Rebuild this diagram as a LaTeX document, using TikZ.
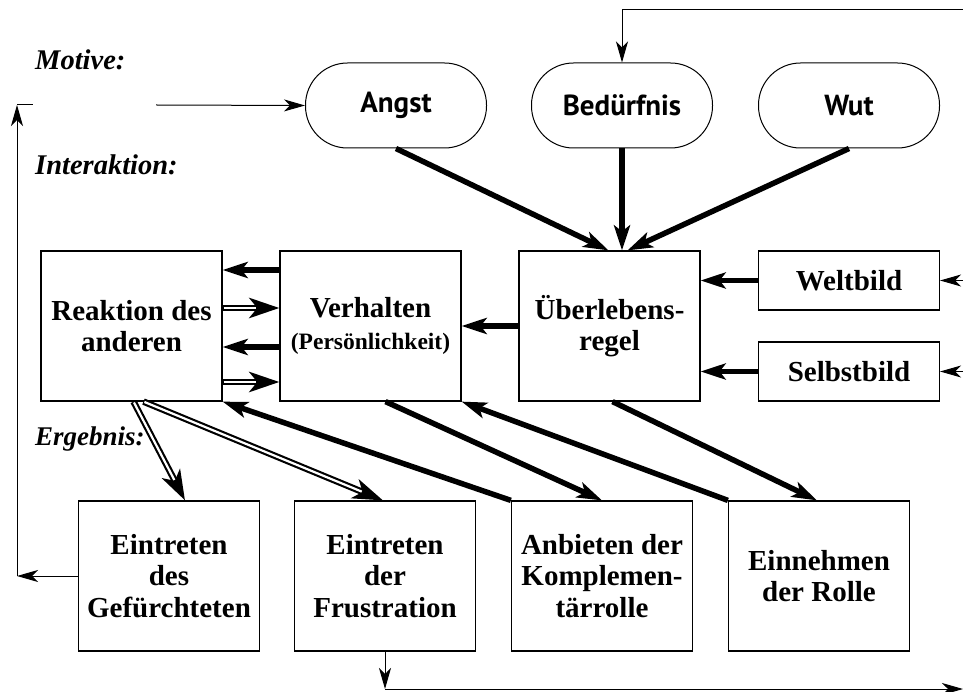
\documentclass[tikz,border=0pt]{standalone}
\usepackage{fontspec}
\setmainfont{Liberation Serif}
\newfontfamily\ovalfont{PT Sans}
\usetikzlibrary{arrows.meta,calc}
\begin{document}
\begin{tikzpicture}[x=1pt,y=-1pt,
  box/.style={draw, line width=1.2pt, minimum width=181pt, minimum height=150pt, align=center, inner sep=0pt, font=\fontsize{29}{31.5}\selectfont\bfseries},
  smallbox/.style={box, minimum height=59pt},
  oval/.style={draw, line width=1pt, rounded corners=42pt, minimum width=181pt, minimum height=85pt, inner sep=0pt, font=\ovalfont\bfseries\fontsize{29}{32}\selectfont},
  lab/.style={anchor=base west, inner sep=0pt, font=\fontsize{28.5}{32}\selectfont\bfseries\itshape},
  fine/.style={line width=1pt, -{Stealth[length=21pt,width=12pt,inset=6pt]}},
  plain/.style={line width=1pt},
  heavy/.style={line width=5.5pt, -{Stealth[length=25pt,width=16pt,inset=6pt]}},
  dbl/.style={line width=6.5pt, -{Stealth[length=30pt,width=20pt,inset=8pt]}},
  dblin/.style={white, line width=2.2pt, shorten >=23pt, shorten <=1pt},
]
\useasboundingbox (0,0) rectangle (963,692);

% labels
\node[lab] (lmot) at (35,70) {Motive:};
\node[lab] (lint) at (35,175) {Interaktion:};
\node[lab, font=\fontsize{27}{30}\selectfont\bfseries\itshape] (lerg) at (35,445) {Ergebnis:};

% motives
\node[oval] (angst) at (396,105.5) {Angst};
\node[oval] (bed) at (622,105.5) {Bedürfnis};
\node[oval] (wut) at (849,105.5) {Wut};

% interaction row
\node[box] (reak) at (131.5,326) {Reaktion des\\anderen};
\node[box] (verh) at (370.5,326) {Verhalten\\{\fontsize{23.5}{27}\selectfont (Persönlichkeit)}};
\node[box] (ueber) at (609.5,326) {Überlebens-\\regel};
\node[smallbox] (welt) at (849,280.5) {Weltbild};
\node[smallbox] (selbst) at (849,371.5) {Selbstbild};

% result row
\node[box] (gef) at (169,576) {Eintreten\\des\\Gefürchteten};
\node[box] (frust) at (385,576) {Eintreten\\der\\Frustration};
\node[box] (anb) at (602,576) {Anbieten der\\Komplemen-\\tärrolle};
\node[box] (einn) at (819,576) {Einnehmen\\der Rolle};

% coordinates
\coordinate (uA) at ($(ueber.north)+(-1,0)$);
\coordinate (uB) at (ueber.north -| bed.south);
\coordinate (uW) at ($(ueber.north)+(18,0)$);
\coordinate (ya) at (0,270);
\coordinate (yb) at (0,308);
\coordinate (yc) at (0,347);
\coordinate (yd) at (0,382);
\coordinate (rs1) at ($(reak.south)+(2,0)$);
\coordinate (rs2) at ($(reak.south)+(12,0)$);
\coordinate (gefn) at ($(gef.north)+(16,0)$);
\coordinate (frn) at ($(frust.north)+(-2,0)$);
\coordinate (vs) at ($(verh.south)+(15,0)$);
\coordinate (us) at ($(ueber.south)+(3,0)$);
\coordinate (en) at ($(einn.north)+(-2,0)$);
\coordinate (fbL) at (17,576);
\coordinate (fbT) at (17,105);
\coordinate (fbE) at (33,105);
\coordinate (fbS) at (156,105);
\coordinate (topR) at (963,10);
\coordinate (topC) at (bed.north |- topR);
\coordinate (wR) at (963,280.5);
\coordinate (sR) at (963,371.5);
\coordinate (botC) at (385,689);
\coordinate (botR) at (963,689);

% motives to rule
\draw[heavy] (angst.south) -- (uA);
\draw[heavy] (bed.south) -- (uB);
\draw[heavy] (wut.south) -- (uW);

% rule and images
\draw[heavy] (ueber.west) -- (verh.east);
\draw[heavy] (welt.west) -- (welt.west -| ueber.east);
\draw[heavy] (selbst.west) -- (selbst.west -| ueber.east);
\draw[fine] (wR) -- (welt.east);
\draw[fine] (sR) -- (selbst.east);

% interaction
\draw[heavy] (verh.west |- ya) -- (reak.east |- ya);
\draw[heavy] (verh.west |- yc) -- (reak.east |- yc);
\draw[dbl] (reak.east |- yb) -- (verh.west |- yb);
\draw[dblin] (reak.east |- yb) -- (verh.west |- yb);
\draw[dbl] (reak.east |- yd) -- (verh.west |- yd);
\draw[dblin] (reak.east |- yd) -- (verh.west |- yd);

% results
\draw[dbl] (rs1) -- (gefn);
\draw[dblin] (rs1) -- (gefn);
\draw[dbl] (rs2) -- (frn);
\draw[dblin] (rs2) -- (frn);
\draw[heavy] (anb.north west) -- (reak.south east);
\draw[heavy] (vs) -- (anb.north);
\draw[heavy] (einn.north west) -- (verh.south east);
\draw[heavy] (us) -- (en);

% feedback loops
\draw[fine] (gef.west) -- (fbL);
\draw[fine] (fbL) -- (fbT);
\draw[plain] (fbT) -- (fbE);
\draw[fine] (fbS) -- (angst.west);
\draw[fine] (topR) -- (topC) -- (bed.north);
\draw[fine] (frust.south) -- (botC);
\draw[fine] (botC) -- (botR);
\end{tikzpicture}
\end{document}
